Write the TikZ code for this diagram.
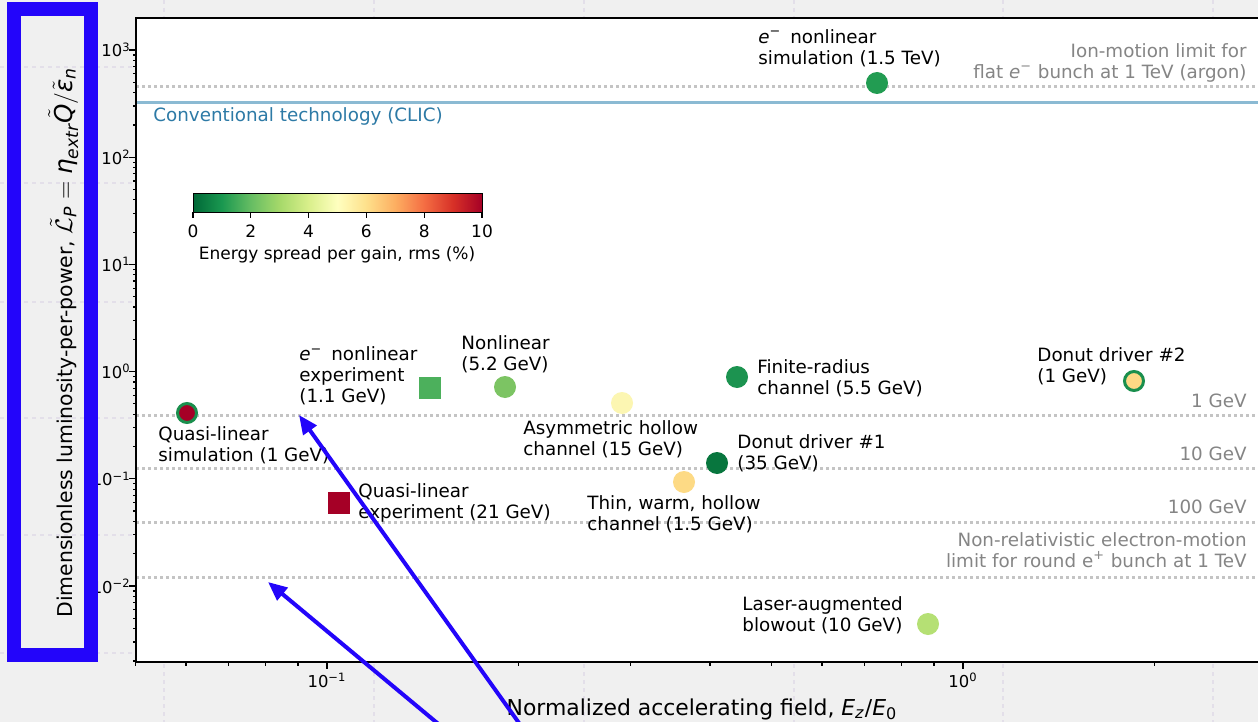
\documentclass[tikz,border=0pt]{standalone}
\usepackage{amsmath}
\usepackage{fontspec}
\setmainfont{DejaVu Sans}
\usetikzlibrary{arrows.meta}
\definecolor{bgc}{HTML}{F0F0F0}
\definecolor{gridc}{HTML}{E3DFE9}
\definecolor{bluec}{HTML}{2305FA}
\definecolor{limc}{HTML}{C4C4C4}
\definecolor{limtxt}{HTML}{858585}
\definecolor{clicline}{HTML}{8BBAD3}
\definecolor{clictxt}{HTML}{2D7AA6}
\definecolor{cA}{HTML}{006837}
\definecolor{cB}{HTML}{1A9850}
\definecolor{cC}{HTML}{66BD63}
\definecolor{cD}{HTML}{A6D96A}
\definecolor{cE}{HTML}{D9EF8B}
\definecolor{cF}{HTML}{FFFFBF}
\definecolor{cG}{HTML}{FEE08B}
\definecolor{cH}{HTML}{FDAE61}
\definecolor{cI}{HTML}{F46D43}
\definecolor{cJ}{HTML}{D73027}
\definecolor{cK}{HTML}{A50026}
\definecolor{edgeg}{HTML}{1A8F4D}
\definecolor{mQLS}{HTML}{A50026}
\definecolor{mNLX}{HTML}{4CB05C}
\definecolor{mNL}{HTML}{7CC463}
\definecolor{mAsym}{HTML}{FCF6B2}
\definecolor{mFin}{HTML}{1C9350}
\definecolor{mDnA}{HTML}{08763E}
\definecolor{mThin}{HTML}{FDDA85}
\definecolor{mQLE}{HTML}{A50026}
\definecolor{mTeV}{HTML}{229C52}
\definecolor{mDnB}{HTML}{FDD985}
\definecolor{mLas}{HTML}{B5E074}
\pgfdeclarehorizontalshading{rdylgnr}{100bp}{color(0bp)=(cA); color(25bp)=(cA); color(30bp)=(cB); color(35bp)=(cC); color(40bp)=(cD); color(45bp)=(cE); color(50bp)=(cF); color(55bp)=(cG); color(60bp)=(cH); color(65bp)=(cI); color(70bp)=(cJ); color(75bp)=(cK); color(100bp)=(cK)}
\newcommand\labfont{\fontsize{9.15pt}{10.5pt}\selectfont}
\newcommand\cbfont{\fontsize{8.5pt}{10pt}\selectfont}
\newcommand\tickfont{\fontsize{8.2pt}{10pt}\selectfont}
\newcommand\axfont{\fontsize{10.95pt}{13pt}\selectfont}
\newcommand\yaxfont{\fontsize{10.2pt}{12pt}\selectfont}
\newcommand\ymathfont{\fontsize{12.3pt}{13pt}\selectfont}
\tikzset{
  lab/.style={font=\labfont, align=left, inner sep=0pt, anchor=north west, text=black},
  rlab/.style={font=\labfont, align=right, inner sep=0pt, anchor=north east, text=limtxt},
  dotm/.style={circle, inner sep=0pt, minimum size=11pt, draw=none},
  sqm/.style={rectangle, inner sep=0pt, minimum size=11pt, draw=none},
  edged/.style={draw=edgeg, line width=1.5pt, minimum size=9.5pt},
  limline/.style={limc, line width=1.5pt, dash pattern=on 1.5pt off 1.5pt},
  bggrid/.style={gridc, line width=1.3pt, dash pattern=on 2pt off 2pt},
  arr/.style={bluec, line width=2pt, -{Triangle[length=9.5pt,width=8pt]}},
  tickln/.style={black, line width=0.6pt},
}
\begin{document}
\begin{tikzpicture}[x=0.5pt,y=-0.5pt]
\useasboundingbox (0,0) rectangle (1258,722);
\begin{scope}
\clip (0,0) rectangle (1258,722);
\fill[bgc] (0,0) rectangle (1258,722);
\foreach \gy in {67,183,302,418,535,653} \draw[bggrid] (0,\gy) -- (1258,\gy);
\foreach \gx in {164,374,584,794,1003,1213} \draw[bggrid] (\gx,0) -- (\gx,722);
% plot area
\fill[white] (136,18) rectangle (1270,662);
% limit lines
\foreach \ly in {87,415,468,522,577} \draw[limline] (136,\ly) -- (1270,\ly);
\draw[clicline, line width=1.5pt] (136,103) -- (1270,103);
% spines
\draw[black, line width=1pt] (1270,18) -- (136,18) -- (136,662) -- (1270,662);
% y ticks
\foreach \dd in {-3,...,3} {
  \foreach \mm in {2,...,9} {
    \pgfmathsetmacro\yy{371.6-107.2*(\dd+ln(\mm)/ln(10))}
    \pgfmathtruncatemacro\ok{and(\yy>18.5,\yy<661.5)}
    \ifnum\ok=1 \draw[tickln] (136,\yy) -- (132.5,\yy); \fi
  }
}
\foreach \dd/\lb/\nm in {3/3/a,2/2/b,1/1/c,0/0/d,-1/−1/e,-2/−2/f} {
  \pgfmathsetmacro\yy{371.6-107.2*\dd}
  \draw[tickln] (136,\yy) -- (129,\yy);
  \node[font=\tickfont, anchor=base east, inner sep=0pt] (yt\nm) at (131,\yy+7) {10\textsuperscript{\lb}};
}
% x ticks
\foreach \mm in {5,...,9} {\pgfmathsetmacro\xx{-309+636*ln(\mm)/ln(10)} \draw[tickln] (\xx,662) -- (\xx,665.5);}
\foreach \mm in {2,...,9} {\pgfmathsetmacro\xx{327+636*ln(\mm)/ln(10)} \draw[tickln] (\xx,662) -- (\xx,665.5);}
\draw[tickln] (1154.4,662) -- (1154.4,665.5);
\draw[tickln] (327,662) -- (327,669);
\draw[tickln] (963,662) -- (963,669);
\node[font=\tickfont, anchor=base, inner sep=0pt] (xta) at (327,687) {10\textsuperscript{−1}};
\node[font=\tickfont, anchor=base, inner sep=0pt] (xtb) at (963,687) {10\textsuperscript{0}};
% axis labels
\node[font=\axfont, anchor=base, inner sep=0pt] (xlab) at (702,715) {Normalized accelerating field, \textit{E}\textsubscript{\textit{z}}/\textit{E}\textsubscript{0}};
\node[font=\yaxfont, anchor=base west, inner sep=0pt, rotate=90] (ylab) at (72,618) {Dimensionless luminosity-per-power, {\ymathfont$\tilde{\mathcal{L}}_{\text{\itshape P}}=\text{\itshape η}_{\text{\itshape extr}}\tilde{\text{\itshape Q}}/\tilde{\text{\itshape ε}}_{\text{\itshape n}}$}};
% colorbar
\shade[shading=rdylgnr] (193,193) rectangle (482,212);
\draw[black, line width=0.5pt] (193,193) rectangle (482,212);
\foreach \k/\lb in {0/0,1/2,2/4,3/6,4/8,5/10} {
  \pgfmathsetmacro\xx{193+57.8*\k}
  \draw[tickln] (\xx,212) -- (\xx,218);
  \node[font=\cbfont, anchor=north, inner sep=0pt] (cb\k) at (\xx,224.5) {\lb};
}
\node[font=\cbfont, anchor=north, inner sep=0pt] (cblab) at (337,246.5) {Energy spread per gain, rms (\%)};
% line labels
\node[lab, text=clictxt] (lclic) at (153,107.5) {Conventional technology (CLIC)};
\node[rlab] (lion) at (1247,42.7) {Ion-motion limit for\\flat \textit{e}\textsuperscript{−} bunch at 1 TeV (argon)};
\node[rlab] (lone) at (1247,394) {1 GeV};
\node[rlab] (lten) at (1247,446.7) {10 GeV};
\node[rlab] (lhun) at (1247,500) {100 GeV};
\node[rlab] (lnr) at (1247,531.7) {Non-relativistic electron-motion\\limit for round e\textsuperscript{+} bunch at 1 TeV};
% markers
\node[dotm, fill=mQLS, edged] (qls) at (187,413) {};
\node[sqm, fill=mNLX] (nlx) at (430,388) {};
\node[dotm, fill=mNL] (nl) at (505,387) {};
\node[dotm, fill=mAsym] (asym) at (622,403) {};
\node[dotm, fill=mFin] (fin) at (737,377) {};
\node[dotm, fill=mDnA] (dna) at (717,463) {};
\node[dotm, fill=mThin] (thin) at (684,482) {};
\node[sqm, fill=mQLE] (qle) at (339,503) {};
\node[dotm, fill=mTeV] (tev) at (877,83) {};
\node[dotm, fill=mDnB, edged] (dnb) at (1134,381) {};
\node[dotm, fill=mLas] (las) at (928,624) {};
% marker labels
\node[lab] (lqls) at (158,426.5) {Quasi-linear\\simulation (1 GeV)};
\node[lab] (lnlx) at (299,346.5) {\textit{e}\textsuperscript{−}\, nonlinear\\experiment\\(1.1 GeV)};
\node[lab] (lnl) at (461,335) {Nonlinear\\(5.2 GeV)};
\node[lab] (lasym) at (523,420) {Asymmetric hollow\\channel (15 GeV)};
\node[lab] (lfin) at (757,359) {Finite-radius\\channel (5.5 GeV)};
\node[lab] (ldna) at (737,434) {Donut driver \#1\\(35 GeV)};
\node[lab] (lthin) at (587,495) {Thin, warm, hollow\\channel (1.5 GeV)};
\node[lab] (lqle) at (358,483) {Quasi-linear\\experiment (21 GeV)};
\node[lab] (ltev) at (758,29.3) {\textit{e}\textsuperscript{−}\, nonlinear\\simulation (1.5 TeV)};
\node[lab] (ldnb) at (1037,347) {Donut driver \#2\\(1 GeV)};
\node[lab] (llas) at (742,596.5) {Laser-augmented\\blowout (10 GeV)};
% annotation frame and arrows
\draw[bluec, line width=7pt] (14,9) rectangle (91,655);
\coordinate (aas) at (524,730);
\coordinate (aat) at (299,415);
\coordinate (abs) at (445.6,730);
\coordinate (abt) at (268,582);
\draw[arr] (aas) -- (aat);
\draw[arr] (abs) -- (abt);
\end{scope}
\end{tikzpicture}
\end{document}
